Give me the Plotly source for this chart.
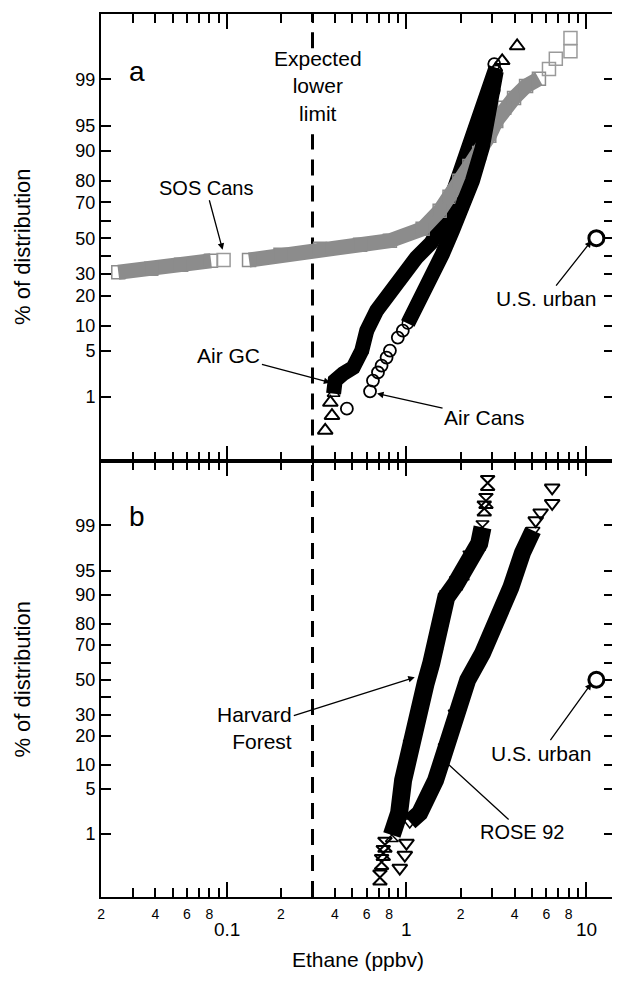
import math
from statistics import NormalDist
import plotly.graph_objects as go

ND = NormalDist()


def z(p):
    return ND.inv_cdf(p / 100.0)


# ---------------- data (ethane ppbv, cumulative % of distribution) ----------------
# Panel a
gc_band_x = [0.393, 0.401, 0.445, 0.505, 0.564, 0.601, 0.683, 0.809, 0.954, 1.135,
             1.374, 1.588, 1.774, 2.056, 2.44, 2.77, 3.0, 3.15]
gc_band_pct = [1.15, 1.86, 2.38, 2.92, 5.0, 8.8, 14.5, 22.1, 30.2, 38.8,
               47.4, 58.4, 72.3, 86.2, 94.2, 97.5, 98.94, 99.37]
gc_pts_x = [0.353, 0.385, 0.377, 3.41, 4.13]
gc_pts_pct = [0.245, 0.47, 0.81, 99.53, 99.755]

cans_band_x = [1.017, 1.135, 1.262, 1.398, 1.588, 1.803, 2.05, 2.33, 2.64, 2.89, 3.08, 3.16]
cans_band_pct = [10.6, 15.5, 22.1, 30.2, 41.0, 54.4, 67.2, 80.0, 90.7, 96.6, 98.45, 99.28]
cans_pts_x = [0.466, 0.627, 0.651, 0.694, 0.727, 0.775, 0.809, 0.895, 0.954, 3.08]
cans_pts_pct = [0.63, 1.25, 1.86, 2.47, 3.12, 4.03, 5.0, 7.3, 8.8, 99.46]

sos_low_x = [0.0249, 0.038, 0.0557, 0.0817]
sos_low_pct = [30.9, 32.8, 34.9, 37.1]
sos_main_x = [0.133, 0.199, 0.331, 0.552, 0.809, 1.23, 1.53, 1.736, 1.97, 2.24,
              2.54, 2.89, 3.16, 3.50, 3.97, 4.63, 5.46]
sos_main_pct = [37.5, 40.5, 43.9, 46.2, 48.5, 55.5, 65.6, 72.8, 80.0, 85.5,
                89.4, 93.3, 95.7, 97.2, 98.0, 98.71, 99.02]
sos_pts_x = [0.096, 6.21, 6.78, 8.18, 8.18]
sos_pts_pct = [37.5, 99.34, 99.57, 99.69, 99.83]

# Panel b
hf_band_x = [0.829, 0.910, 0.958, 1.043, 1.159, 1.279, 1.374, 1.465, 1.563, 1.665,
             1.890, 2.056, 2.24, 2.54, 2.65]
hf_band_pct = [0.96, 2.22, 6.5, 15.5, 30.7, 47.9, 59.8, 70.9, 81.5, 89.3,
               92.7, 94.6, 96.7, 98.0, 98.92]
hf_pts_x = [0.712, 0.727, 0.743, 0.759, 2.71, 2.77, 2.83]
hf_pts_pct = [0.143, 0.30, 0.45, 0.64, 99.51, 99.65, 99.85]

rose_band_x = [1.043, 1.185, 1.453, 1.643, 1.866, 2.19, 2.65, 3.21, 3.81, 4.42, 5.06]
rose_band_pct = [1.6, 2.22, 6.5, 15.5, 30.7, 49.7, 65.5, 81.5, 91.8, 97.2, 98.78]
rose_pts_x = [0.918, 0.979, 1.0, 5.24, 5.58, 6.47, 6.47]
rose_pts_pct = [0.226, 0.41, 0.69, 99.18, 99.41, 99.61, 99.81]

urban_x = [11.4]
urban_pct = [50.0]

lower_limit = 0.3

# axis ticks
y_tick_pct = [1, 5, 10, 20, 30, 40, 50, 60, 70, 80, 90, 95, 99]
y_tick_text = ["1", "5", "10", "20", "30", "", "50", "", "70", "80", "90", "95", "99"]
x_decades = [0.1, 1, 10]
x_decade_text = ["0.1", "1", "10"]
x_minor_vals = [m * d for d in (0.01, 0.1, 1) for m in range(2, 10)]
x_minor_text = [str(m) if m % 2 == 0 else "" for d in (0.01, 0.1, 1) for m in range(2, 10)]

# ---------------- figure ----------------
FONT = "Liberation Sans"
XR = [-1.7, 1.155]
YA = [-3.268, 3.282]
YB = [-3.276, 3.291]
GRAY = "#8c8c8c"

fig = go.Figure()


def band(xs, ps, ax, color, w, sym, size, msize_line=1.5):
    fig.add_trace(go.Scatter(
        x=xs, y=[z(p) for p in ps], mode="lines+markers", xaxis=ax[0], yaxis=ax[1],
        line=dict(color=color, width=w),
        marker=dict(symbol=sym, size=size, color=color, line=dict(color=color, width=msize_line)),
        hoverinfo="skip"))


def pts(xs, ps, ax, color, sym, size, lw=1.8):
    fig.add_trace(go.Scatter(
        x=xs, y=[z(p) for p in ps], mode="markers", xaxis=ax[0], yaxis=ax[1],
        marker=dict(symbol=sym, size=size, color=color, line=dict(color=color, width=lw)),
        hoverinfo="skip"))


A = ("x", "y")
B = ("x2", "y2")

# dashed "expected lower limit"
dash = dict(color="black", width=3, dash="16px,10px")
fig.add_trace(go.Scatter(x=[lower_limit, lower_limit], y=[YA[0], z(93.6)], mode="lines",
                         line=dash, xaxis="x", yaxis="y", hoverinfo="skip"))
fig.add_trace(go.Scatter(x=[lower_limit, lower_limit], y=[z(99.73), YA[1]], mode="lines",
                         line=dash, xaxis="x", yaxis="y", hoverinfo="skip"))
fig.add_trace(go.Scatter(x=[lower_limit, lower_limit], y=[YB[0], YB[1]], mode="lines",
                         line=dash, xaxis="x2", yaxis="y2", hoverinfo="skip"))

# panel a
band(gc_band_x, gc_band_pct, A, "black", 15, "triangle-up-open", 11)
pts(gc_pts_x, gc_pts_pct, A, "black", "triangle-up-open", 13, 2)
band(sos_low_x, sos_low_pct, A, GRAY, 15, "square-open", 13)
band(sos_main_x, sos_main_pct, A, GRAY, 15, "square-open", 13)
pts(sos_pts_x, sos_pts_pct, A, "#9a9a9a", "square-open", 13, 1.5)
band(cans_band_x, cans_band_pct, A, "black", 15, "circle-open", 11)
pts(cans_pts_x, cans_pts_pct, A, "black", "circle-open", 12, 1.8)
pts(urban_x, urban_pct, A, "black", "circle-open", 15, 3)

# panel b
band(hf_band_x, hf_band_pct, B, "black", 18, "hourglass-open", 13)
pts(hf_pts_x, hf_pts_pct, B, "black", "hourglass-open", 14, 2)
band(rose_band_x, rose_band_pct, B, "black", 17, "triangle-down-open", 12)
pts(rose_pts_x, rose_pts_pct, B, "black", "triangle-down-open", 13, 2)
pts(urban_x, urban_pct, B, "black", "circle-open", 15, 3)


def xaxis_common(anchor, labels):
    return dict(
        type="log", range=XR, anchor=anchor, showgrid=False, zeroline=False,
        showline=True, linecolor="black", linewidth=2, mirror="allticks",
        ticks="inside", ticklen=9, tickwidth=1.5, tickcolor="black",
        tickmode="array", tickvals=x_minor_vals, ticktext=x_minor_text,
        showticklabels=labels, tickfont=dict(family=FONT, size=14, color="black"),
        ticklabelstandoff=3,
        minor=dict(tickmode="array", tickvals=x_decades, ticks="inside",
                   ticklen=15, tickwidth=2, tickcolor="black", showgrid=False),
    )


def yaxis_common(anchor, rng, dom):
    return dict(
        range=rng, domain=dom, anchor=anchor, showgrid=False, zeroline=False,
        showline=True, linecolor="black", linewidth=2, mirror="allticks",
        ticks="inside", ticklen=10, tickwidth=1.5, tickcolor="black",
        tickmode="array", tickvals=[z(p) for p in y_tick_pct], ticktext=y_tick_text,
        tickfont=dict(family=FONT, size=18, color="black"),
    )


# page body has an 8px margin: figure is 612x979 placed at (8, 8)
split = 436 / 884
fig.update_layout(
    width=612, height=979,
    margin=dict(l=93, r=4, t=5, b=90),
    paper_bgcolor="white", plot_bgcolor="white", showlegend=False,
    font=dict(family=FONT, color="black"),
    xaxis=xaxis_common("y", False),
    yaxis=yaxis_common("x", YA, [split, 1]),
    xaxis2=xaxis_common("y2", True),
    yaxis2=yaxis_common("x2", YB, [0, split]),
)

ann = []


def note(text, hx, hp, tx, tp, xr, yr, size=21, align="center"):
    ann.append(dict(text=text, x=math.log10(hx), y=z(hp), ax=math.log10(tx), ay=z(tp),
                    xref=xr, yref=yr, axref=xr, ayref=yr, showarrow=True,
                    arrowhead=2, arrowsize=1, arrowwidth=1.3, arrowcolor="black",
                    standoff=0, align=align,
                    font=dict(family=FONT, size=size, color="black")))


note("SOS Cans", 0.0948, 43.3, 0.0766, 77.0, "x", "y", 20)
note("Air GC", 0.377, 1.73, 0.1028, 4.29, "x", "y")
note("Air Cans", 0.686, 1.15, 2.72, 0.434, "x", "y")
note("U.S. urban", 10.7, 48.5, 5.97, 18.8, "x", "y")
note("Harvard<br>Forest", 1.112, 51.5, 0.1432, 23.3, "x2", "y2", align="right")
note("ROSE 92", 1.566, 11.9, 4.41, 1.08, "x2", "y2", 20)
note("U.S. urban", 10.7, 47.9, 5.61, 13.4, "x2", "y2")

ann.append(dict(text="Expected<br>lower<br>limit", x=math.log10(0.323), y=z(98.7),
                xref="x", yref="y", showarrow=False,
                font=dict(family=FONT, size=21, color="black")))
ann.append(dict(text="a", x=0.05, y=0.911, xref="x domain", yref="y domain",
                showarrow=False, font=dict(family=FONT, size=28, color="black")))
ann.append(dict(text="b", x=0.05, y=0.915, xref="x2 domain", yref="y2 domain",
                showarrow=False, font=dict(family=FONT, size=28, color="black")))
for v, t in zip(x_decades, x_decade_text):
    ann.append(dict(text=t, x=math.log10(v), y=-(930 - 897) / 884, xref="x2", yref="paper",
                    yanchor="middle", showarrow=False,
                    font=dict(family=FONT, size=19, color="black")))
ann.append(dict(text="Ethane (ppbv)", x=0.5, y=-(960 - 897) / 884, xref="paper", yref="paper",
                yanchor="middle", showarrow=False,
                font=dict(family=FONT, size=21, color="black")))
for yr, yy in (("y domain", 0.48), ("y2 domain", 0.5)):
    ann.append(dict(text="% of distribution", textangle=-90, x=(22 - 101) / 515, y=yy,
                    xref="paper", yref=yr, xanchor="center", yanchor="middle",
                    showarrow=False, font=dict(family=FONT, size=22, color="black")))

fig.update_layout(annotations=ann)
fig.write_html("out.html")
